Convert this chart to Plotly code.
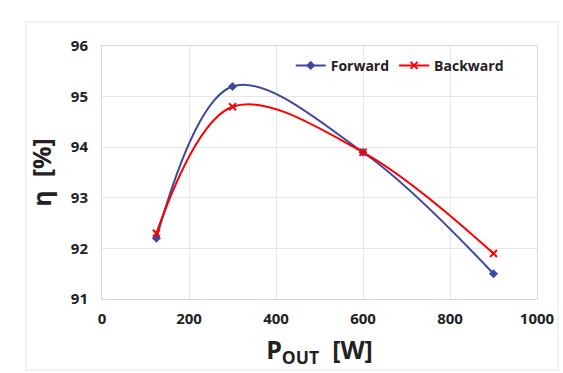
import plotly.graph_objects as go

p_out = [125, 300, 600, 900]
forward = [92.2, 95.2, 93.9, 91.5]
backward = [92.3, 94.8, 93.9, 91.9]
x_ticks = [0, 200, 400, 600, 800, 1000]
y_ticks = [91, 92, 93, 94, 95, 96]

fig = go.Figure()
fig.add_trace(go.Scatter(
    x=p_out, y=forward, name="Forward", mode="lines+markers",
    line=dict(color="#3F47A0", width=2, shape="spline", smoothing=1.0),
    marker=dict(symbol="diamond", size=7, color="#3F47A0"),
))
fig.add_trace(go.Scatter(
    x=p_out, y=backward, name="Backward", mode="lines+markers",
    line=dict(color="#FF0000", width=2, shape="spline", smoothing=1.0),
    marker=dict(symbol="x-thin", size=7, color="#FF0000",
                line=dict(color="#FF0000", width=2)),
))

# faint outer chart-area border
fig.add_shape(type="rect", xref="paper", yref="paper",
              x0=-0.175, x1=1.048, y0=-0.281, y1=1.095,
              line=dict(color="#E8E8E8", width=1), fillcolor="rgba(0,0,0,0)",
              layer="below")

font_fam = "Open Sans, Liberation Sans, sans-serif"
fig.update_layout(
    width=563, height=373,
    margin=dict(l=102, r=26, t=46, b=74),
    paper_bgcolor="white", plot_bgcolor="white",
    font=dict(family=font_fam, color="#222222"),
    showlegend=True,
    legend=dict(orientation="h", x=0.935, xanchor="right", y=0.985, yanchor="top",
                font=dict(size=14, color="#222222", family=font_fam, weight="bold"),
                bgcolor="rgba(0,0,0,0)", itemwidth=30, tracegroupgap=0),
    xaxis=dict(range=[0, 1000], tickvals=x_ticks, showgrid=True, automargin=False,
               gridcolor="#E6E6E6", gridwidth=1, zeroline=False,
               showline=True, linecolor="#D9D9D9", mirror=True,
               ticks="", ticklabelstandoff=6,
               tickfont=dict(size=15, weight="bold", color="#222222"),
               title=dict(text="P<sub>OUT</sub>  [W]", font=dict(size=25, weight="bold", color="#222222"),
                          standoff=14)),
    yaxis=dict(range=[91, 96], tickvals=y_ticks, showgrid=True, automargin=False,
               gridcolor="#E6E6E6", gridwidth=1, zeroline=False,
               showline=True, linecolor="#D9D9D9", mirror=True,
               ticks="", ticklabelstandoff=10,
               tickfont=dict(size=15, weight="bold", color="#222222"),
               title=dict(text="η  [%]", font=dict(size=25, weight="bold", color="#222222"),
                          standoff=12)),
)

fig.write_html("out.html", config={"displayModeBar": False},
               post_script="document.body.style.margin='0';document.body.style.padding='0';")
